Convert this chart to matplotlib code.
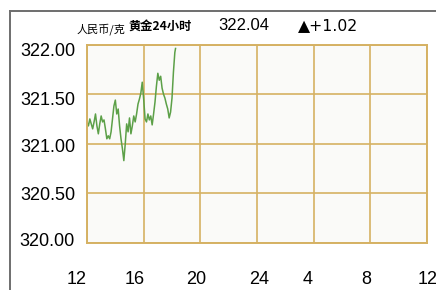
import matplotlib
matplotlib.use("Agg")
import matplotlib.pyplot as plt
from matplotlib.lines import Line2D

# ---- data ----
hours = [i * 0.1 for i in range(63)] + [6.25]
price = [321.22, 321.18, 321.25, 321.20, 321.15, 321.22, 321.30, 321.18, 321.10, 321.20,
         321.28, 321.22, 321.24, 321.15, 321.05, 321.08, 321.05, 321.12, 321.25, 321.38,
         321.44, 321.30, 321.35, 321.18, 321.05, 320.95, 320.83, 321.00, 321.20, 321.12,
         321.26, 321.10, 321.18, 321.28, 321.22, 321.30, 321.40, 321.45, 321.51, 321.62,
         321.45, 321.25, 321.22, 321.30, 321.24, 321.28, 321.19, 321.30, 321.42, 321.58,
         321.71, 321.64, 321.68, 321.56, 321.50, 321.46, 321.40, 321.35, 321.26, 321.32,
         321.46, 321.72, 321.92, 321.96]
x_labels = ["12", "16", "20", "24", "4", "8", "12"]
y_labels = ["322.00", "321.50", "321.00", "320.50", "320.00"]
unit_text = "人民币/克"
title_text = "黄金24小时"
last_price = "322.04"
change_text = "▲+1.02"

# ---- layout ----
W, H = 436, 290
fig = plt.figure(figsize=(W / 100, H / 100), dpi=100)
fig.patch.set_facecolor("white")
ax = fig.add_axes([87 / W, 1 - 243 / H, 340 / W, 198.5 / H])
ax.set_facecolor("#fafaf8")
ax.set_xlim(0, 24)
ax.set_ylim(320.0, 322.0)
grid_c = "#d5b163"
ax.set_xticks(range(0, 25, 4))
ax.set_yticks([320.0, 320.5, 321.0, 321.5, 322.0])
ax.grid(True, color=grid_c, linewidth=1.2)
ax.tick_params(length=0, labelbottom=False, labelleft=False)
for s in ax.spines.values():
    s.set_color(grid_c)
    s.set_linewidth(1.4)

ax.plot(hours, price, color="#5ca048", linewidth=1.1)

num_font = ["Liberation Sans", "DejaVu Sans"]
x_label_pos = [-0.71, 3.39, 7.69, 12.17, 15.56, 19.69, 24.07]
y_label_pix = [51, 101, 147, 195, 241]
for lab, xp in zip(x_labels, x_label_pos):
    xf = (87 + xp * 340 / 24) / W
    fig.text(xf, 1 - 280 / H, lab, ha="center", va="center",
             fontsize=13, family=num_font)
for lab, yp in zip(y_labels, y_label_pix):
    fig.text(75 / W, 1 - yp / H, lab, ha="right", va="center",
             fontsize=13, family=num_font)

cjk = ["Noto Sans CJK SC", "DejaVu Sans"]
fig.text(77 / W, 1 - 29 / H, unit_text, ha="left", va="center", fontsize=8, family=cjk)
fig.text(128 / W, 1 - 26 / H, title_text, ha="left", va="center", fontsize=8.8,
         family=cjk, fontweight="bold")
fig.text(218 / W, 1 - 26 / H, last_price, ha="left", va="center", fontsize=12, family=num_font)
fig.text(298 / W, 1 - 26 / H, change_text, ha="left", va="center", fontsize=11.3,
         family=["DejaVu Sans"])

# outer frame
fig.add_artist(Line2D([9.5 / W, 9.5 / W], [0, 1 - 11 / H], color="#6e6e6e", linewidth=1.4))
fig.add_artist(Line2D([9.5 / W, 1], [1 - 11 / H, 1 - 11 / H], color="#6e6e6e", linewidth=1.4))

fig.savefig("out.png", dpi=100)
